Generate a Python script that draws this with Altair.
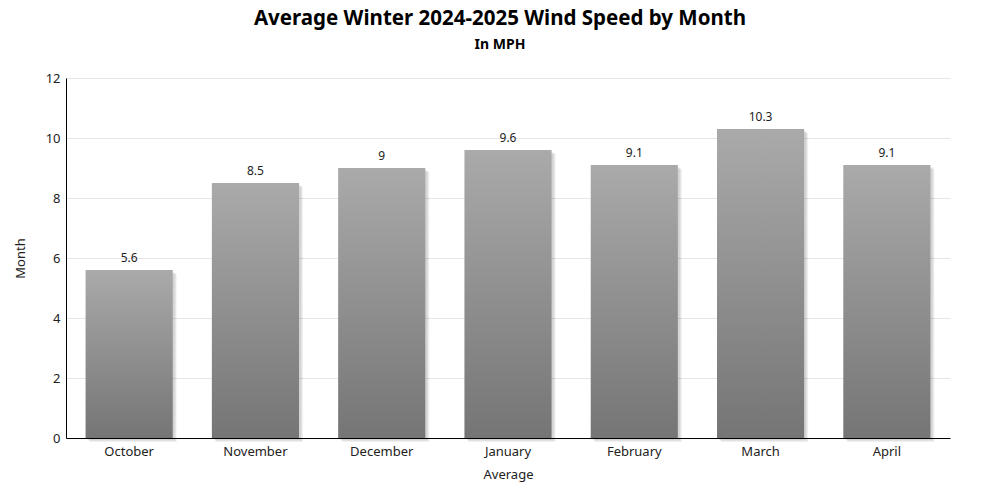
import altair as alt
import pandas as pd

months = ["October", "November", "December", "January", "February", "March", "April"]
speeds = [5.6, 8.5, 9.0, 9.6, 9.1, 10.3, 9.1]
labels = ["5.6", "8.5", "9", "9.6", "9.1", "10.3", "9.1"]

df = pd.DataFrame({"month": months, "speed": speeds, "label": labels})

FONT = "Noto Sans"

x_enc = alt.X("month:N", sort=months, title="Average",
              scale=alt.Scale(paddingInner=0.31, paddingOuter=0.155))
y_enc = alt.Y("speed:Q", title="Month",
              scale=alt.Scale(domain=[0, 12]),
              axis=alt.Axis(values=[0, 2, 4, 6, 8, 10, 12]))

base = alt.Chart(df).encode(x=x_enc, y=y_enc)

shadows = [
    base.mark_bar(color="#000000", opacity=0.06, xOffset=o, yOffset=o)
    for o in (2, 3, 4)
]

grad = alt.Gradient(
    gradient="linear",
    stops=[alt.GradientStop(color="#aaaaaa", offset=0),
           alt.GradientStop(color="#757575", offset=1)],
    x1=0, x2=0, y1=0, y2=1,
)
bars = base.mark_bar(color=grad)

text = base.mark_text(dy=-12, fontSize=12, color="#222222", font=FONT).encode(
    text="label:N")

chart = alt.layer(*shadows, bars, text).properties(
    width=884,
    height=360,
    background="white",
    padding={"left": 58, "top": 70, "right": 42, "bottom": 54},
    autosize=alt.AutoSizeParams(type="none"),
    title=alt.TitleParams(
        text="Average Winter 2024-2025 Wind Speed by Month",
        subtitle="In MPH",
        font=FONT, fontSize=20.5, fontWeight="bold", color="#000000",
        subtitleFont=FONT, subtitleFontSize=14, subtitleFontWeight="bold",
        subtitleColor="#000000", subtitlePadding=9,
        anchor="middle", offset=20, dx=-8,
    ),
).configure_view(stroke=None).configure_axis(
    labelFont=FONT, titleFont=FONT, labelFontSize=13, titleFontSize=13,
    titleFontWeight="normal", labelColor="#222222", titleColor="#222222",
    domainColor="#000000", domainOpacity=1, tickSize=0, grid=False,
).configure_axisX(
    labelAngle=0, labelPadding=7, titlePadding=10,
).configure_axisY(
    grid=True, gridColor="#e6e6e6", labelPadding=6, titlePadding=18,
)

chart.save("out.html", embed_options={"renderer": "svg", "actions": False})
